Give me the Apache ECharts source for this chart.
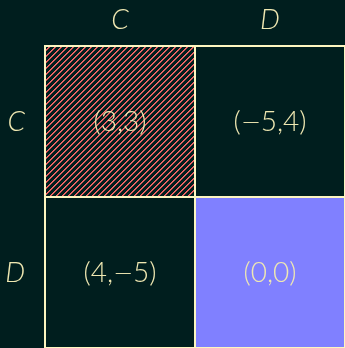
<!DOCTYPE html>
<html>
<head>
<meta charset="utf-8">
<script src="https://cdn.jsdelivr.net/npm/echarts@6/dist/echarts.min.js"></script>
<style>
html, body { margin: 0; padding: 0; background: #001e1e; }
#chart { width: 345px; height: 348px; }
</style>
</head>
<body>
<div id="chart"></div>
<script>
var colLabels = ['C', 'D'];
var rowLabels = ['C', 'D'];
// [col, row, payoff1, payoff2]
var payoffs = [
	[0, 0, 3, 3],
	[1, 0, -5, 4],
	[0, 1, 4, -5],
	[1, 1, 0, 0]
];
// cell style: 'hatch', 'fill' or 'none'
var cellKind = ['hatch', 'none', 'none', 'fill'];

var bg = '#001e1e', lineCol = '#fdf6c0', textCol = '#efe8b2';

//斜线纹理, 逐像素画
function hatch() {
	var n = 6;
	var c = document.createElement('canvas');
	c.width = n; c.height = n;
	var g = c.getContext('2d');
	g.fillStyle = bg;
	g.fillRect(0, 0, n, n);
	for (var r = 0; r < n; r++) {
		g.fillStyle = '#ff6e6e';
		g.fillRect(n - 1 - r, r, 1, 1);
		g.fillStyle = '#c85252';
		g.fillRect((n - r) % n, r, 1, 1);
	}
	return c;
}
var pattern = { image: hatch(), repeat: 'repeat' };

function fmt(v) {
	return v < 0 ? '{m|\u2212}' + (-v) : '' + v;
}

var labelStyle = { color: textCol, fontSize: 28, fontStyle: 'italic', fontWeight: 300, fontFamily: 'Lato' };

var chart = echarts.init(document.getElementById('chart'));
chart.setOption({
	backgroundColor: bg,
	animation: false,
	grid: { left: 45, top: 46, width: 302, height: 302 },
	xAxis: {
		type: 'category',
		position: 'top',
		data: colLabels,
		axisLine: { show: false },
		axisTick: { show: false },
		axisLabel: Object.assign({ margin: 12 }, labelStyle)
	},
	yAxis: {
		type: 'category',
		inverse: true,
		data: rowLabels,
		axisLine: { show: false },
		axisTick: { show: false },
		axisLabel: Object.assign({ margin: 20 }, labelStyle)
	},
	series: [{
		type: 'custom',
		data: payoffs,
		renderItem: function (params, api) {
			var p = api.coord([api.value(0), api.value(1)]);
			var s = api.size([1, 1]);
			var kind = cellKind[params.dataIndex];
			var fill = kind === 'fill' ? '#8080ff' : (kind === 'hatch' ? pattern : bg);
			return {
				type: 'group',
				children: [{
					type: 'rect',
					shape: { x: p[0] - s[0] / 2, y: p[1] - s[1] / 2, width: s[0], height: s[1] },
					style: { fill: fill, stroke: lineCol, lineWidth: 2 }
				}, {
					type: 'text',
					x: p[0], y: p[1],
					style: {
						text: '(' + fmt(api.value(2)) + ',' + fmt(api.value(3)) + ')',
						fill: textCol,
						fontFamily: 'Lato',
						fontWeight: 300,
						fontSize: 28,
						align: 'center',
						verticalAlign: 'middle',
						rich: {
							m: { fontFamily: 'DejaVu Sans', fontWeight: 200, fontSize: 24, fill: textCol, padding: [5, 0, 0, 0] }
						}
					}
				}]
			};
		}
	}]
});
</script>
</body>
</html>
